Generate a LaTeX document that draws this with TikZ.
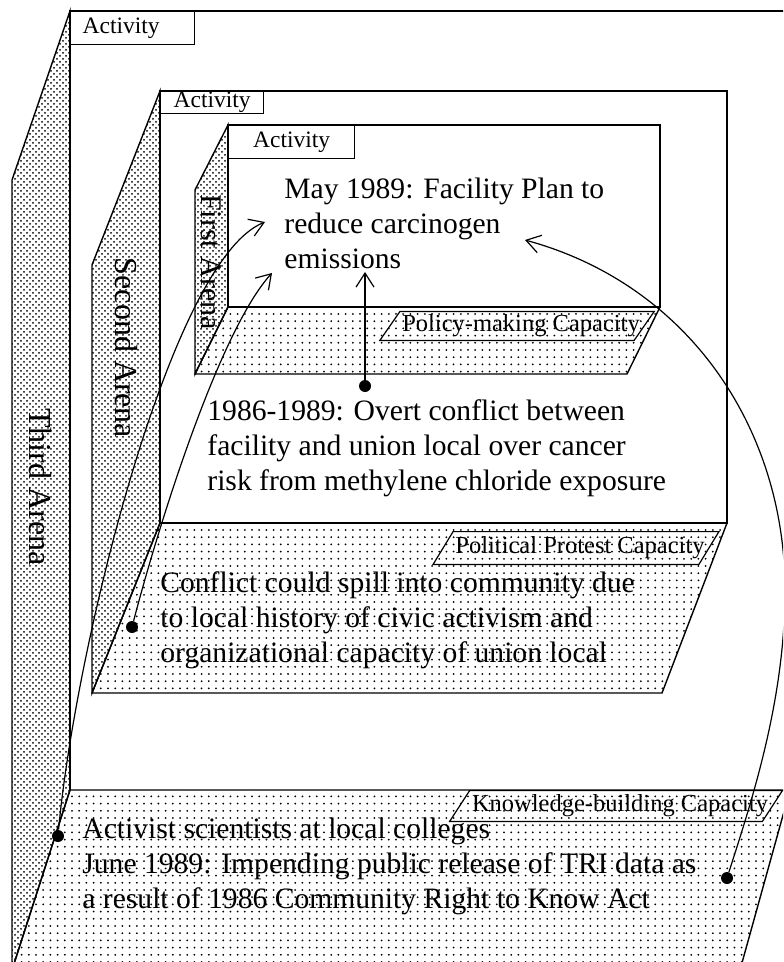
\documentclass[tikz,border=0pt]{standalone}
\usepackage{fontspec}
\setmainfont{Liberation Serif}
\usepackage{tikz}
\usetikzlibrary{arrows.meta}
\usetikzlibrary{patterns}
\usetikzlibrary{positioning}

\pgfdeclarepatternformonly{sparsedots}{\pgfqpoint{-1pt}{-1pt}}{\pgfqpoint{1pt}{1pt}}{\pgfqpoint{3.6pt}{3.6pt}}{%
  \pgfpathcircle{\pgfqpoint{0pt}{0pt}}{.5pt}\pgfusepath{fill}}

\tikzset{
  side/.style={draw, line width=0.7pt, pattern=crosshatch dots},
  floor/.style={draw, line width=0.7pt, pattern=sparsedots},
  front/.style={draw, line width=0.7pt},
  tab/.style={rectangle, draw, fill=white, line width=0.7pt, anchor=north west,
    inner sep=0pt, font=\fontsize{11.75}{13}\selectfont},
  capacity/.style={inner xsep=3pt, inner ysep=0pt,
    font=\fontsize{12.25}{14}\selectfont},
  tagline/.style={draw, line width=0.6pt},
  arena/.style={rotate=-90, inner sep=0pt, font=\fontsize{16}{18}\selectfont},
  event/.style={align=left, anchor=west, inner sep=0pt,
    font=\fontsize{14.8}{17.5}\selectfont},
  spot/.style={circle, fill=black, inner sep=0pt, minimum size=6pt},
  link/.style={line width=0.6pt, -{Straight Barb[length=7pt,width=9pt]}}
}
\newcommand{\tagframe}[1]{%
  \draw [tagline] ([xshift=2pt]#1.north west) -- ([xshift=4pt]#1.north east)
    -- ([xshift=-6pt]#1.south east) -- ([xshift=-8pt]#1.south west) -- cycle;}

\begin{document}
\begin{tikzpicture}[x=0.5pt, y=-0.5pt]
\useasboundingbox (0,0) rectangle (783,962);
\clip (0,0) rectangle (783,962);

% third arena
\draw [side] (70,11) -- (12,180) -- (12,970) -- (70,790) -- cycle;
\draw [front] (70,790) -- (70,11) -- (800,11);
\draw [floor] (70,790) -- (790,790) -- (740,970) -- (12,970) -- cycle;

% second arena
\draw [side] (160,91) -- (92,265) -- (92,693) -- (160,523) -- cycle;
\draw [front] (160,91) rectangle (727,523);
\draw [floor] (160,523) -- (727,523) -- (662,693) -- (92,693) -- cycle;

% first arena
\draw [side] (228,125) -- (195,190) -- (195,374) -- (228,307) -- cycle;
\draw [front] (228,125) rectangle (660,307);
\draw [floor] (228,307) -- (660,307) -- (627,374) -- (195,374) -- cycle;

% tabs and labels
\node [tab, text width=50pt, inner xsep=6pt, align=left, minimum height=16.5pt] (act3) at (70,11) {Activity};
\node [tab, minimum width=51.5pt, minimum height=11pt] (act2) at (160,91) {Activity};
\node [tab, minimum width=63pt, minimum height=16.5pt] (act1) at (228,125) {Activity};

\node [arena] (third) at (40,487) {Third Arena};
\node [arena] (second) at (126,348) {Second Arena};
\node [arena, font=\fontsize{15}{17}\selectfont] (first) at (211,262) {First Arena};

\node [capacity, minimum height=14pt] (policy) at (521,326) {Policy-making Capacity};
\tagframe{policy}
\node [capacity, minimum height=16pt] (protest) at (580,548) {Political Protest Capacity};
\tagframe{protest}
\node [capacity, minimum height=15pt] (knowledge) at (620,806) {Knowledge-building Capacity};
\tagframe{knowledge}

\node [event] (plan) at (284,223) {May 1989: Facility Plan to\\reduce carcinogen\\emissions};
\node [event] (overt) at (207,448) {1986-1989: Overt conflict between\\facility and union local over cancer\\risk from methylene chloride exposure};
\node [event] (spill) at (160,620) {Conflict could spill into community due\\to local history of civic activism and\\organizational capacity of union local};
\node [event] (tri) at (82,866) {Activist scientists at local colleges\\June 1989: Impending public release of TRI data as\\a result of 1986 Community Right to Know Act};

% dots and arrows
\node [spot] (overtdot) at (365,386) {};
\node [spot] (spilldot) at (132,627) {};
\node [spot] (scidot) at (58,836) {};
\node [spot] (tridot) at (727,878) {};

\coordinate (tipa) at (265,222);
\coordinate (tipb) at (272,273);
\coordinate (tipc) at (365,272);
\coordinate (tipd) at (525,240);
\coordinate (bulge) at (785,590);

\draw [link] (overtdot) -- (tipc);
\draw [link] (scidot) .. controls (75,650) and (170,260) .. (tipa);
\draw [link] (spilldot) .. controls (160,520) and (220,330) .. (tipb);
\draw [link] (tridot) .. controls (752,800) and (785,700) .. (bulge)
  .. controls (785,430) and (690,285) .. (tipd);
\end{tikzpicture}
\end{document}
